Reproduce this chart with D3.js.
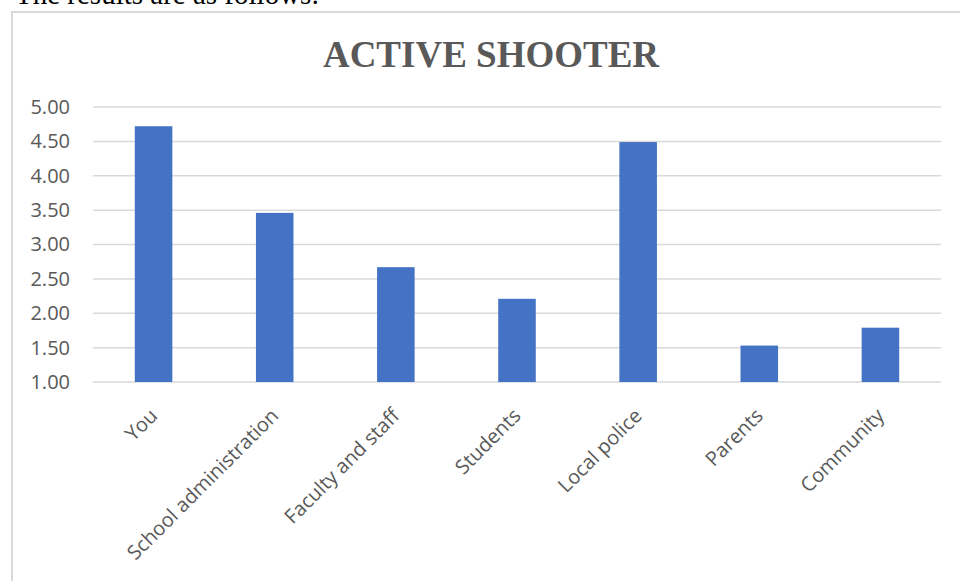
<!DOCTYPE html>
<html>
<head>
<meta charset="utf-8">
<script src="https://cdn.jsdelivr.net/npm/d3@7"></script>
<style>
  html, body { margin: 0; padding: 0; background: #fff; }
  svg { display: block; }
</style>
</head>
<body>
<svg id="chart" width="960" height="581"></svg>
<script>
const categories = ["You", "School administration", "Faculty and staff", "Students", "Local police", "Parents", "Community"];
const values = [4.72, 3.46, 2.67, 2.21, 4.49, 1.53, 1.79];
const yTicks = [1.00, 1.50, 2.00, 2.50, 3.00, 3.50, 4.00, 4.50, 5.00];
const title = "ACTIVE SHOOTER";
const introText = "The results are as follows:";

const svg = d3.select("#chart");

// intro text (cut off at top, as in the reference)
svg.append("text")
  .attr("x", 15).attr("y", 4)
  .attr("font-family", "Liberation Serif, serif")
  .attr("font-size", 29)
  .attr("fill", "#000")
  .text(introText);

// chart frame
svg.append("rect")
  .attr("x", 12).attr("y", 12)
  .attr("width", 960).attr("height", 600)
  .attr("fill", "#fff")
  .attr("stroke", "#d9d9d9")
  .attr("stroke-width", 2);

// title
svg.append("text")
  .attr("x", 491).attr("y", 67)
  .attr("text-anchor", "middle")
  .attr("font-family", "Liberation Serif, serif")
  .attr("font-weight", "bold")
  .attr("font-size", 37)
  .attr("fill", "#595959")
  .text(title);

const plotL = 93, plotR = 941, plotT = 107, plotB = 382;

const x = d3.scaleBand().domain(categories).range([plotL, plotR]).paddingInner(0.69).paddingOuter(0.345);
const y = d3.scaleLinear().domain([1, 5]).range([plotB, plotT]);

// gridlines
svg.append("g").selectAll("line").data(yTicks).join("line")
  .attr("x1", plotL).attr("x2", plotR)
  .attr("y1", d => y(d)).attr("y2", d => y(d))
  .attr("stroke", "#d9d9d9").attr("stroke-width", 1.5);

// y axis labels
const yAxis = d3.axisLeft(y).tickValues(yTicks).tickFormat(d3.format(".2f")).tickSize(0).tickPadding(0);
const gy = svg.append("g").attr("transform", `translate(70,0)`).call(yAxis);
gy.select(".domain").remove();
gy.selectAll("text")
  .attr("font-family", "Open Sans, sans-serif")
  .attr("font-size", 20)
  .attr("fill", "#595959");

// bars
svg.append("g").selectAll("rect").data(values).join("rect")
  .attr("x", (d, i) => x(categories[i]))
  .attr("width", x.bandwidth())
  .attr("y", d => y(d))
  .attr("height", d => y(1) - y(d))
  .attr("fill", "#4472c4");

// x axis labels
const xAxis = d3.axisBottom(x).tickSize(0).tickPadding(0);
const gx = svg.append("g").attr("transform", `translate(0,${plotB})`).call(xAxis);
gx.select(".domain").remove();
gx.selectAll("text")
  .attr("font-family", "Open Sans, sans-serif")
  .attr("font-size", 20)
  .attr("fill", "#595959")
  .attr("text-anchor", "end")
  .attr("transform", "translate(5,35) rotate(-45)")
  .attr("dy", 0)
  .attr("y", 0).attr("x", 0);
</script>
</body>
</html>
